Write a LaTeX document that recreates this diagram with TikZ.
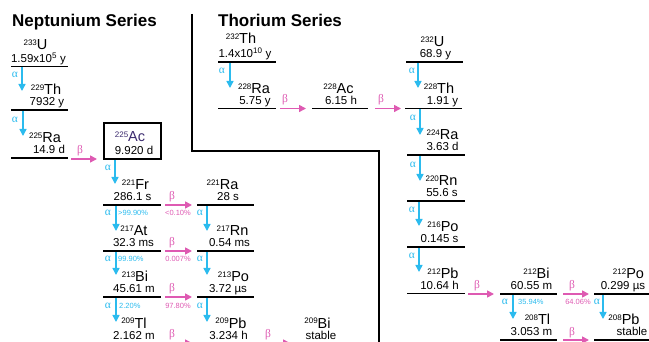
\documentclass[tikz,border=0pt]{standalone}
\usepackage{fontspec}
\setmainfont{Liberation Sans}
\newfontfamily\greekfont{Liberation Serif}
\usetikzlibrary{arrows.meta}
\definecolor{acol}{HTML}{2BBBEE}
\definecolor{bcol}{HTML}{DE5AB2}
\definecolor{accol}{HTML}{3B2A6E}
\newcommand\iso[2]{\raisebox{4.3pt}{\fontsize{8}{8}\selectfont #1}#2}
\newcommand\eoff{15}
\newcommand\lvl[8]{%
  \coordinate (#1-l) at (#2,#4); \coordinate (#1-r) at (#3,#4);
  \draw[lvlline] (#1-l) -- (#1-r);
  \node[elem] (#1-e) at (#5,#4-\eoff) {#6};
  \node[half] (#1-h) at (#7,#4-4) {#8};}
\newcommand\aar[6]{%
  \coordinate (#1-s) at (#2,#3); \coordinate (#1-t) at (#2,#4);
  \draw[aarr] (#1-s) -- (#1-t);
  \node[glab,text=acol] (#1-g) at (#5,#6) {α};}
\newcommand\betaar[6]{%
  \coordinate (#1-s) at (#2,#4); \coordinate (#1-t) at (#3,#4);
  \draw[barr] (#1-s) -- (#1-t);
  \node[glab,text=bcol] (#1-g) at (#5,#6) {β};}
\begin{document}
\begin{tikzpicture}[x=1pt,y=-1pt,
  elem/.style={font=\fontsize{14.5}{14.5}\selectfont, anchor=base, inner sep=0},
  half/.style={font=\fontsize{11.5}{11.5}\selectfont, anchor=base, inner sep=0},
  lvlline/.style={line width=1.6pt},
  aarr/.style={-{Triangle[length=7pt,width=7pt]}, line width=1.6pt, draw=acol},
  barr/.style={-{Triangle[length=7pt,width=7pt]}, line width=1.6pt, draw=bcol},
  glab/.style={font=\greekfont\fontsize{11.5}{11.5}\selectfont, inner sep=0},
  pct/.style={font=\fontsize{7.5}{7.5}\selectfont, inner sep=0},
  ttl/.style={font=\bfseries\fontsize{17}{17}\selectfont, anchor=base west, inner sep=0},
  sep/.style={line width=2.4pt}]
\useasboundingbox (0,0) rectangle (649,342);
\clip (0,0) rectangle (649,342);
% separator
\coordinate (s1) at (192,14); \coordinate (s2) at (192,151);
\coordinate (s3) at (379,151); \coordinate (s4) at (379,360);
\draw[sep] (s1) -- (s2) -- (s3) -- (s4);
% titles
\node[ttl] (tnp) at (12,27) {Neptunium Series};
\node[ttl] (tth) at (218,27) {Thorium Series};
% Neptunium series
\renewcommand\eoff{17}
\lvl{u233}{11}{68}{66.5}{35.5}{\iso{233}{U}}{38.5}{1.59x10\textsuperscript{5} y}
\renewcommand\eoff{15}
\aar{a1}{22}{67}{91}{15}{75}
\lvl{th229}{11}{68}{110}{46}{\iso{229}{Th}}{47}{7932 y}
\aar{a2}{23}{111}{136}{15}{120}
\lvl{ra225}{11}{68}{158}{45}{\iso{225}{Ra}}{49}{14.9 d}
\betaar{b1}{71}{97}{159}{80}{151}
\node[draw, line width=1.6pt, minimum width=57pt, minimum height=36pt, inner sep=0] (acbox) at (132.5,141) {};
\node[elem,text=accol] (ac225-e) at (130,142) {\iso{225}{Ac}};
\node[half] (ac225-h) at (134,154.5) {9.920 d};
\aar{a3}{115}{160}{184}{108}{168}
\lvl{fr221}{103}{161}{205}{135.5}{\iso{221}{Fr}}{132.5}{286.1 s}
\betaar{b2}{165}{192}{205}{172}{197}
\node[pct,text=bcol] (p1) at (178,213) {<0.10\%};
\aar{a4}{116}{206}{231}{108}{213}
\node[pct,text=acol,anchor=west] (p2) at (118,213) {>99.90\%};
\lvl{ra221}{197}{254}{205}{222.5}{\iso{221}{Ra}}{228}{28 s}
\aar{a5}{207}{206}{231}{200}{213}
\lvl{at217}{103}{161}{251}{134}{\iso{217}{At}}{133.5}{32.3 ms}
\betaar{b3}{165}{192}{251}{172}{243}
\node[pct,text=bcol] (p3) at (178,259) {0.007\%};
\aar{a6}{116}{252}{275}{108}{259}
\node[pct,text=acol,anchor=west] (p4) at (118,259) {99.90\%};
\lvl{rn217}{197}{254}{251}{232.5}{\iso{217}{Rn}}{229.5}{0.54 ms}
\aar{a7}{207}{252}{275}{200}{259}
\lvl{bi213}{103}{161}{297}{135}{\iso{213}{Bi}}{134}{45.61 m}
\betaar{b4}{165}{192}{297}{172}{289}
\node[pct,text=bcol] (p5) at (178,306) {97.80\%};
\aar{a8}{116}{298}{322}{108}{306}
\node[pct,text=acol,anchor=west] (p6) at (119,306) {2.20\%};
\lvl{po213}{197}{254}{297}{233.5}{\iso{213}{Po}}{228}{3.72 µs}
\aar{a9}{207}{298}{322}{200}{306}
\lvl{tl209}{103}{161}{343}{134}{\iso{209}{Tl}}{134}{2.162 m}
\betaar{b5}{165}{192}{343}{172}{335}
\lvl{pb209}{197}{254}{343}{231}{\iso{209}{Pb}}{228.5}{3.234 h}
\betaar{b6}{262}{290}{343}{268}{335}
\lvl{bi209}{297}{354}{343}{317.5}{\iso{209}{Bi}}{321}{stable}
% Thorium series
\renewcommand\eoff{18}
\lvl{th232}{218}{276}{62}{241}{\iso{232}{Th}}{245}{1.4x10\textsuperscript{10} y}
\renewcommand\eoff{15}
\aar{a10}{230}{63}{88}{222}{71}
\lvl{ra228}{218}{276}{108.5}{254}{\iso{228}{Ra}}{255}{5.75 y}
\betaar{b7}{280}{306}{108.5}{285}{100}
\lvl{ac228}{312}{368}{108.5}{338.5}{\iso{228}{Ac}}{341}{6.15 h}
\betaar{b8}{375}{401}{108.5}{381}{100}
\lvl{u232}{406}{463}{62}{432.5}{\iso{232}{U}}{435.5}{68.9 y}
\aar{a11}{418}{63}{88}{412}{71}
\lvl{th228}{405}{462}{108.5}{439}{\iso{228}{Th}}{442.5}{1.91 y}
\aar{a12}{420}{109}{135}{413}{118}
\lvl{ra224}{407}{465}{155}{442.5}{\iso{224}{Ra}}{442.5}{3.63 d}
\aar{a13}{420}{156}{181}{413}{165}
\lvl{rn220}{407}{465}{201}{441.5}{\iso{220}{Rn}}{442}{55.6 s}
\aar{a14}{419}{202}{226}{412}{210}
\lvl{po216}{407}{465}{247}{443}{\iso{216}{Po}}{439.5}{0.145 s}
\aar{a15}{419}{248}{272}{412}{256}
\lvl{pb212}{407}{465}{293.5}{443}{\iso{212}{Pb}}{439.5}{10.64 h}
\betaar{b9}{468}{494}{294}{477}{286}
\lvl{bi212}{500}{557}{294}{536.5}{\iso{212}{Bi}}{531.5}{60.55 m}
\betaar{b10}{563}{589}{294}{572}{286}
\node[pct,text=bcol] (p7) at (578,302) {64.06\%};
\lvl{po212}{594}{652}{294}{628.5}{\iso{212}{Po}}{623}{0.299 µs}
\aar{a16}{513}{295}{319}{505}{302}
\node[pct,text=acol,anchor=west] (p8) at (518,302) {35.94\%};
\aar{a17}{603}{295}{319}{597}{302}
\lvl{tl208}{500}{557}{340}{537.5}{\iso{208}{Tl}}{531.5}{3.053 m}
\betaar{b11}{563}{589}{340}{572}{333}
\lvl{pb208}{594}{652}{340}{624}{\iso{208}{Pb}}{632}{stable}
\end{tikzpicture}
\end{document}
